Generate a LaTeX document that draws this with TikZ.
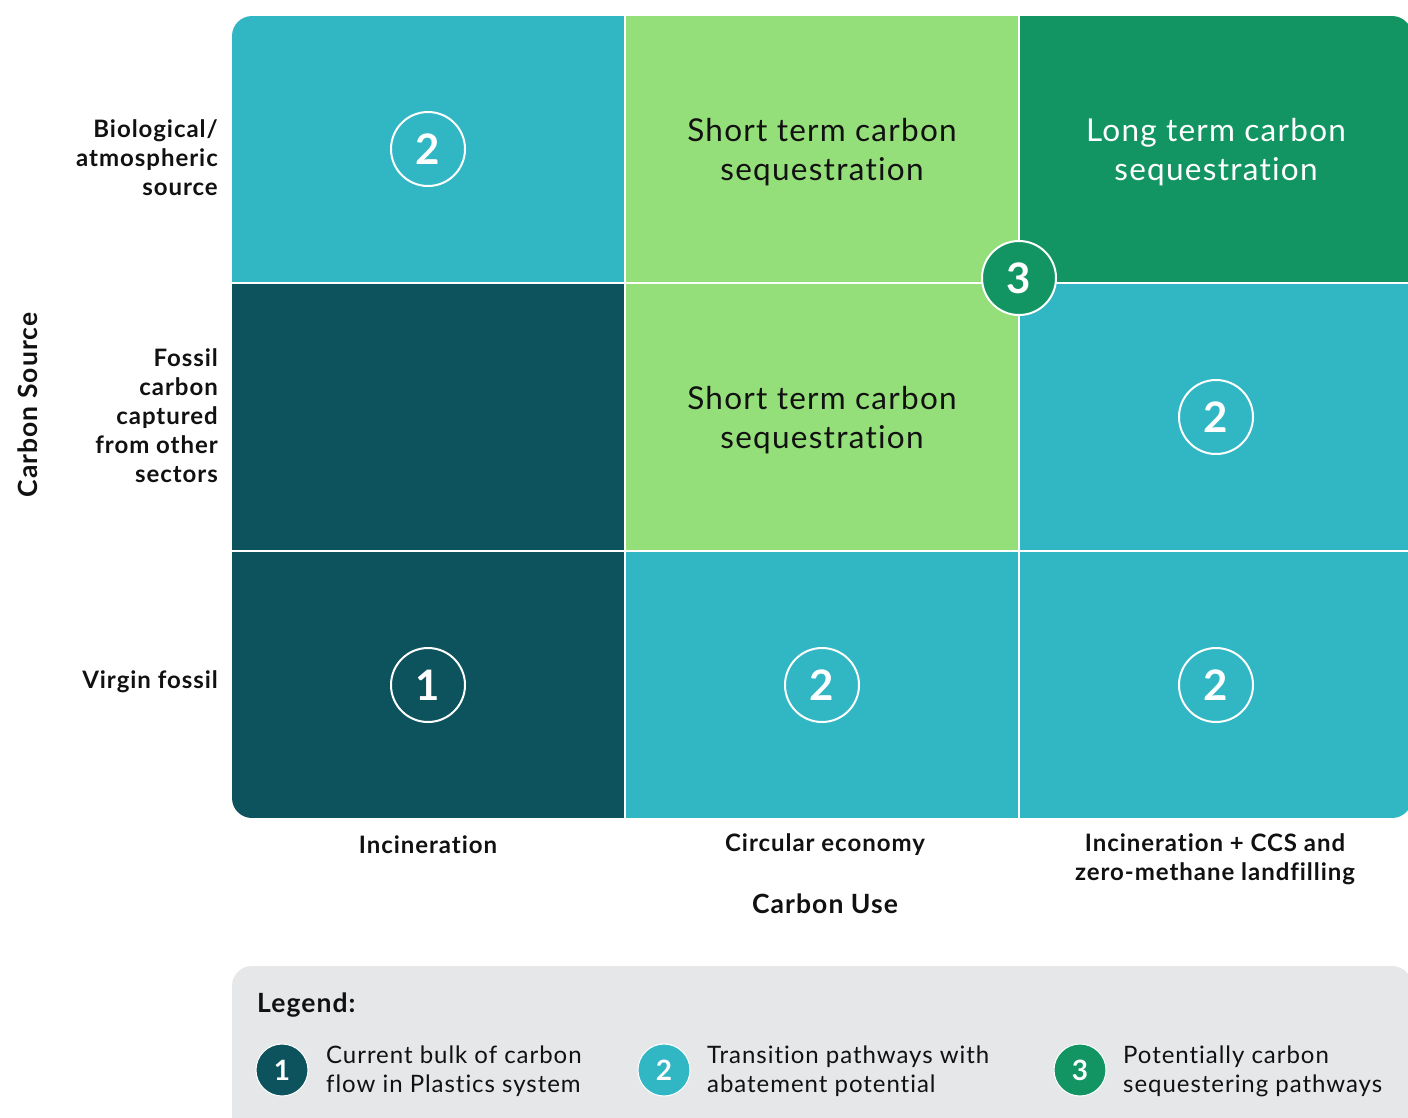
\documentclass[tikz,border=0pt]{standalone}
\usepackage{fontspec}
\setmainfont{Lato}[LetterSpace=4,Ligatures=NoCommon]
\definecolor{cteal}{HTML}{31B7C4}
\definecolor{cgreen}{HTML}{95DF7A}
\definecolor{cdkgreen}{HTML}{129563}
\definecolor{cdkteal}{HTML}{0C535D}
\definecolor{clegend}{HTML}{E6E7E9}
\definecolor{ctext}{HTML}{111111}
\tikzset{
  rowlab/.style={anchor=east, align=right, text=ctext, font=\fontsize{24}{29}\selectfont\bfseries, inner sep=0pt},
  collab/.style={align=center, text=ctext, font=\fontsize{24}{29}\selectfont\bfseries, inner sep=0pt},
  axislab/.style={text=ctext, font=\fontsize{26.5}{30}\selectfont\bfseries, inner sep=0pt},
  celltext/.style={align=center, font=\fontsize{31.5}{39}\selectfont, inner sep=0pt},
  numcirc/.style={circle, draw=white, line width=2pt, minimum size=74pt, inner sep=0pt, text=white, font=\fontsize{42}{42}\selectfont\bfseries},
  legcirc/.style={circle, draw=white, line width=1pt, minimum size=52pt, inner sep=0pt, text=white, font=\fontsize{28}{28}\selectfont\bfseries},
  legtext/.style={anchor=west, align=left, text=ctext, font=\fontsize{24}{29}\selectfont, inner sep=0pt},
}
\begin{document}
\begin{tikzpicture}[x=1pt,y=-1pt]
\clip (0,0) rectangle (1408,1117);
\fill[white] (0,0) rectangle (1408,1117);
% grid cells
\begin{scope}
\clip[rounded corners=20pt] (232,16) rectangle (1412,818);
\fill[cteal]    (232,16)  rectangle (625,283);
\fill[cgreen]   (625,16)  rectangle (1019,283);
\fill[cdkgreen] (1019,16) rectangle (1412,283);
\fill[cdkteal]  (232,283) rectangle (625,551);
\fill[cgreen]   (625,283) rectangle (1019,551);
\fill[cteal]    (1019,283) rectangle (1412,551);
\fill[cdkteal]  (232,551) rectangle (625,818);
\fill[cteal]    (625,551) rectangle (1019,818);
\fill[cteal]    (1019,551) rectangle (1412,818);
\draw[white, line width=2pt] (625,16) -- (625,818);
\draw[white, line width=2pt] (1019,16) -- (1019,818);
\draw[white, line width=2pt] (232,283) -- (1412,283);
\draw[white, line width=2pt] (232,551) -- (1412,551);
\end{scope}
% cell texts
\node[celltext, text=ctext] (st1) at (822,152) {Short term carbon\\sequestration};
\node[celltext, text=ctext] (st2) at (822,420) {Short term carbon\\sequestration};
\node[celltext, text=white] (lt) at (1216,152) {Long term carbon\\sequestration};
% number circles
\node[numcirc] (c11) at (428,149) {2};
\node[numcirc] (c23) at (1216,417) {2};
\node[numcirc] (c31) at (428,685) {1};
\node[numcirc] (c32) at (822,685) {2};
\node[numcirc] (c33) at (1216,685) {2};
\node[numcirc, fill=cdkgreen] (c3) at (1019,278) {3};
% row labels
\node[rowlab] (r1) at (218,158) {Biological/\\atmospheric\\source};
\node[rowlab] (r2) at (218,416) {Fossil\\carbon\\captured\\from other\\sectors};
\node[rowlab] (r3) at (218,682) {Virgin fossil};
\node[axislab, rotate=90] (ysrc) at (28,405) {Carbon Source};
% column labels
\node[collab] (k1) at (428,845) {Incineration};
\node[collab] (k2) at (825,845) {Circular economy};
\node[collab] (k3) at (1215,859.5) {Incineration + CCS and\\zero-methane landfilling};
\node[axislab] (xuse) at (825,904) {Carbon Use};
% legend
\fill[clegend, rounded corners=20pt] (232,966) rectangle (1412,1160);
\node[axislab, anchor=west] (leg) at (257,1005) {Legend:};
\node[legcirc, fill=cdkteal] (l1) at (282,1070) {1};
\node[legtext] (t1) at (326,1071) {Current bulk of carbon\\flow in Plastics system};
\node[legcirc, fill=cteal] (l2) at (664,1070) {2};
\node[legtext] (t2) at (707,1071) {Transition pathways with\\abatement potential};
\node[legcirc, fill=cdkgreen] (l3) at (1080,1070) {3};
\node[legtext] (t3) at (1123,1071) {Potentially carbon\\sequestering pathways};
\end{tikzpicture}
\end{document}
